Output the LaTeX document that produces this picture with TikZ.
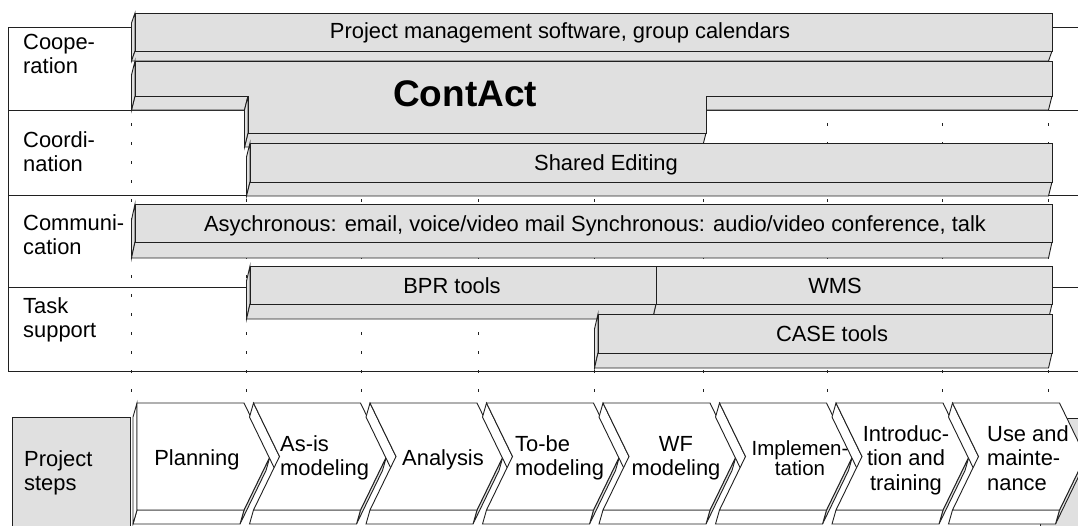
\documentclass[tikz,border=0pt]{standalone}
\usepackage{fontspec}
\setmainfont{Liberation Sans}
\usetikzlibrary{calc}
\definecolor{barfill}{HTML}{E0E0E0}
\definecolor{inkc}{HTML}{202020}
\newcommand{\mlines}[2][l]{\begin{tabular}[t]{@{}#1@{}}#2\end{tabular}}
% extruded side face: [style]{shift vector}{start}{end}
\newcommand{\xface}[4][face]{\path[#1] (#3) -- (#4) -- ([shift={#2}]#4) -- ([shift={#2}]#3) -- cycle;}
\begin{document}
\begin{tikzpicture}[x=1pt,y=-1pt,
  edge/.style={draw=inkc, line width=0.9pt, line join=miter},
  face/.style={edge, fill=barfill},
  wface/.style={edge, fill=white},
  rowline/.style={draw=inkc, line width=0.9pt},
  dotline/.style={draw=inkc, line width=0.9pt, dash pattern=on 2.5pt off 16.5pt},
  lbl/.style={anchor=base west, inner sep=0pt, font=\fontsize{21.9}{24.5}\selectfont},
  txt/.style={anchor=base, inner sep=0pt, font=\fontsize{21.9}{24.5}\selectfont},
]
\useasboundingbox (0,0) rectangle (1078,525);

% row grid
\foreach \yy in {27,110,195,287,371} {\draw[rowline] (8,\yy) -- (1078,\yy);}
\draw[rowline] (8,27) -- (8,371);
\foreach \xx in {131,246,361,478,594,703,827,942,1048} {\draw[dotline] (\xx,104) -- (\xx,403);}

% Project management bar
\xface{(-3.5,10)}{135,13}{135,51}
\xface{(-3.5,10)}{135,51}{1052,51}
\path[face] (135,13) rectangle (1052,51);

% ContAct
\xface{(-3.5,14)}{706,96}{1052,96}
\xface{(-3.5,14)}{248,133}{706,133}
\xface{(-3.5,14)}{135,96}{248,96}
\xface{(-3.5,14)}{248,96}{248,133}
\xface{(-3.5,14)}{135,61}{135,96}
\path[face] (135,61) -- (1052,61) -- (1052,96) -- (706,96) -- (706,133) -- (248,133) -- (248,96) -- (135,96) -- cycle;

% Shared Editing
\xface{(-3.5,14)}{250,143}{250,182}
\xface{(-3.5,14)}{250,182}{1052,182}
\path[face] (250,143) rectangle (1052,182);

% Asynchronous
\xface{(-3.5,16)}{135,204}{135,242}
\xface{(-3.5,16)}{135,242}{1052,242}
\path[face] (135,204) rectangle (1052,242);

% WMS and BPR tools
\xface{(-3.5,15)}{656,304}{1052,304}
\path[face] (656,266) rectangle (1052,304);
\xface{(-3.5,15)}{250,266}{250,304}
\xface{(-3.5,15)}{250,304}{656,304}
\path[face] (250,266) rectangle (656,304);

% CASE tools
\xface{(-3.5,15)}{598,314}{598,353}
\xface{(-3.5,15)}{598,353}{1052,353}
\path[face] (598,314) rectangle (1052,353);

% project steps boxes
\path[face] (12,417) rectangle (130,545);
\path[face] (1040,418) rectangle (1100,545);

% chevrons
\foreach \i in {0,...,7}{
  \pgfmathsetmacro{\L}{137+116.5*\i}
  \pgfmathsetmacro{\R}{\L+107}
  \pgfmathsetmacro{\T}{\R+26}
  \pgfmathsetmacro{\N}{\L+26}
  \xface[face]{(-4,14)}{\T,456.5}{\R,510}
  \xface[wface]{(-4,14)}{\L,510}{\R,510}
  \ifnum\i=0
    \xface[wface]{(-4,14)}{\L,403}{\L,510}
    \path[wface] (\L,403) -- (\R,403) -- (\T,456.5) -- (\R,510) -- (\L,510) -- cycle;
  \else
    \xface[wface]{(-4,14)}{\L,403}{\N,456.5}
    \path[wface] (\L,403) -- (\R,403) -- (\T,456.5) -- (\R,510) -- (\L,510) -- (\N,456.5) -- cycle;
  \fi
}

% row labels
\node[lbl] (lcoop)  at (23,49)  {\mlines{Coope-\\ration}};
\node[lbl] (lcoord) at (23,147) {\mlines{Coordi-\\nation}};
\node[lbl] (lcomm)  at (23,230) {\mlines{Communi-\\cation}};
\node[lbl] (ltask)  at (23,313) {\mlines{Task\\support}};
\node[lbl] (lsteps) at (24,466) {\mlines{Project\\steps}};

% bar texts
\node[txt] (tpm)  at (560,38)  {Project management software, group calendars};
\node[txt, font=\bfseries\fontsize{37}{42}\selectfont] (tca) at (465,106) {ContAct};
\node[txt] (tse)  at (606,170) {Shared Editing};
\node[txt] (tas)  at (595,231) {Asychronous: email, voice/video mail Synchronous: audio/video conference, talk};
\node[txt] (tbpr) at (452,293) {BPR tools};
\node[txt] (twms) at (835,293) {WMS};
\node[txt] (tcase) at (832,341) {CASE tools};

% step texts
\node[txt] (s1) at (197,465) {Planning};
\node[lbl] (s2) at (280,451) {\mlines{As-is\\modeling}};
\node[txt] (s3) at (443,465) {Analysis};
\node[lbl] (s4) at (515,451) {\mlines{To-be\\modeling}};
\node[txt] (s5) at (676,451) {\mlines[c]{WF\\modeling}};
\node[txt, font=\fontsize{20.5}{19}\selectfont] (s6) at (800,455) {\mlines[c]{Implemen-\\tation}};
\node[txt] (s7) at (906,441) {\mlines[c]{Introduc-\\tion and\\training}};
\node[lbl] (s8) at (987,441) {\mlines{Use and\\mainte-\\nance}};
\end{tikzpicture}
\end{document}
